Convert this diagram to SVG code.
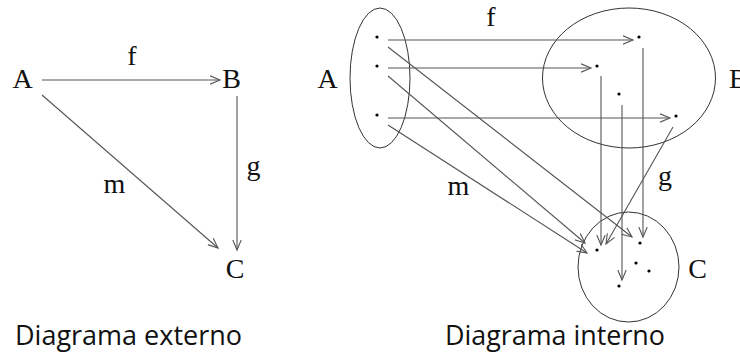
<svg xmlns="http://www.w3.org/2000/svg" width="740" height="354" viewBox="0 0 740 354">
<defs>
<style>
.lbl{font-family:"Liberation Serif","DejaVu Serif",serif;font-size:28px;fill:#111;text-anchor:middle}
.cap{font-family:"Open Sans","DejaVu Sans",sans-serif;font-size:27px;fill:#111}
.set{fill:none;stroke:#333;stroke-width:1}
.dot{fill:#000}
.arr{fill:none;stroke:#555;stroke-width:1.1;marker-end:url(#ah)}
</style>
<marker id="ah" markerUnits="userSpaceOnUse" markerWidth="12" markerHeight="12" refX="10" refY="5" orient="auto" viewBox="0 0 12 10">
<path d="M0,0.8 L10,5 L0,9.2" fill="none" stroke="#555" stroke-width="1.1"/>
</marker>
</defs>
<rect width="740" height="354" fill="#fff"/>

<!-- External diagram -->
<g id="ext-A"><text class="lbl" x="22.5" y="88">A</text></g>
<g id="ext-B"><text class="lbl" x="231.5" y="88">B</text></g>
<g id="ext-C"><text class="lbl" x="235" y="278">C</text></g>
<g id="ext-connectors">
<line class="arr" x1="42" y1="80" x2="220" y2="80"/>
<line class="arr" x1="237" y1="96" x2="237" y2="250"/>
<line class="arr" x1="42" y1="95" x2="218" y2="248"/>
<text class="lbl" x="132" y="65">f</text>
<text class="lbl" x="253.5" y="175">g</text>
<text class="lbl" x="114.5" y="193">m</text>
</g>
<text class="cap" x="15" y="345" textLength="227" lengthAdjust="spacingAndGlyphs">Diagrama externo</text>

<!-- Internal diagram -->
<g id="int-A">
<ellipse class="set" cx="380" cy="78" rx="30" ry="70"/>
<circle class="dot" cx="377" cy="37" r="1.6"/>
<circle class="dot" cx="377" cy="66" r="1.6"/>
<circle class="dot" cx="377" cy="115" r="1.6"/>
<text class="lbl" x="327.5" y="88">A</text>
</g>
<g id="int-B">
<ellipse class="set" cx="629" cy="78" rx="86.5" ry="70"/>
<circle class="dot" cx="639" cy="37" r="1.6"/>
<circle class="dot" cx="597" cy="66" r="1.6"/>
<circle class="dot" cx="619" cy="94" r="1.6"/>
<circle class="dot" cx="676" cy="116" r="1.6"/>
<text class="lbl" x="729" y="88" style="text-anchor:start">B</text>
</g>
<g id="int-C">
<ellipse class="set" cx="628.5" cy="267" rx="50.5" ry="55"/>
<circle class="dot" cx="597" cy="250" r="1.6"/>
<circle class="dot" cx="640" cy="243" r="1.6"/>
<circle class="dot" cx="636" cy="263" r="1.6"/>
<circle class="dot" cx="649" cy="271" r="1.6"/>
<circle class="dot" cx="619" cy="286" r="1.6"/>
<text class="lbl" x="697.5" y="278">C</text>
</g>
<g id="int-connectors">
<line class="arr" x1="388" y1="40" x2="633" y2="40"/>
<line class="arr" x1="388" y1="68" x2="591" y2="68"/>
<line class="arr" x1="388" y1="118" x2="670" y2="118"/>
<line class="arr" x1="388" y1="47" x2="632" y2="237"/>
<line class="arr" x1="388" y1="76" x2="585" y2="243"/>
<line class="arr" x1="388" y1="125" x2="587" y2="253"/>
<line class="arr" x1="601" y1="76" x2="601" y2="245"/>
<line class="arr" x1="622" y1="105" x2="622" y2="280"/>
<line class="arr" x1="643" y1="48" x2="643" y2="237"/>
<line class="arr" x1="673" y1="127" x2="606" y2="244"/>
<text class="lbl" x="491" y="26">f</text>
<text class="lbl" x="665" y="185">g</text>
<text class="lbl" x="458.5" y="195">m</text>
</g>
<text class="cap" x="445" y="345" textLength="220" lengthAdjust="spacingAndGlyphs">Diagrama interno</text>
</svg>
